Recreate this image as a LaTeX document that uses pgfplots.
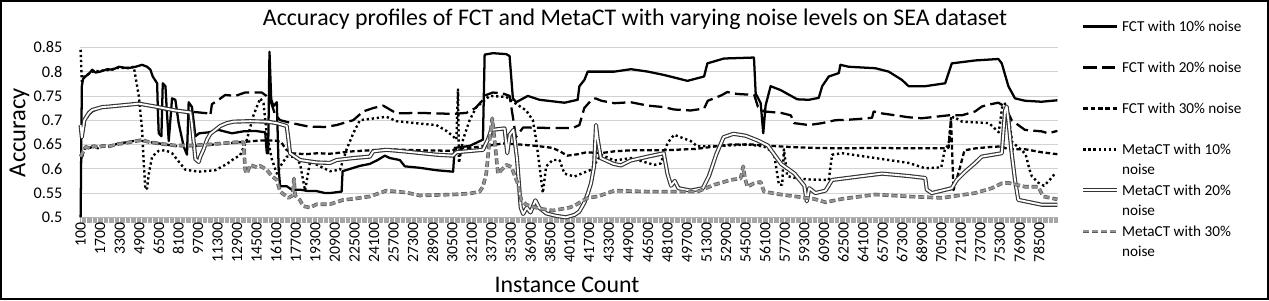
\documentclass[border=0pt]{standalone}
\usepackage{fontspec}
\setmainfont{Carlito}
\usepackage{pgfplots}
\pgfplotsset{compat=1.18}
\begin{document}
\begin{tikzpicture}
\useasboundingbox (0,0) rectangle (951.75pt,225pt);
\fill[white] (0,0) rectangle (951.75pt,225pt);
\draw[line width=1.2pt] (0.6pt,0.6pt) rectangle (951.15pt,224.4pt);
\begin{axis}[
  at={(60pt,62pt)}, anchor=south west,
  width=733.5pt, height=127.5pt, scale only axis,
  xmin=50, xmax=80050, ymin=0.5, ymax=0.85,
  clip=false,
  /pgf/number format/assume math mode=true,
  axis x line*=bottom, axis y line*=left,
  x axis line style={draw=gray!60, -},
  y axis line style={draw=none},
  ytick={0.5,0.55,0.6,0.65,0.7,0.75,0.8,0.85},
  ytick style={draw=none},
  yticklabel style={font=\fontsize{12.2}{14}\selectfont, inner sep=0pt, xshift=-13pt},
  xtick={100,1700,...,78500},
  minor xtick={100,200,...,80000},
  scaled x ticks=false,
  xtick align=outside,
  major tick length=4pt, minor tick length=4pt,
  xtick style={draw=gray!70, line width=0.3pt},
  minor x tick style={draw=gray!70, line width=0.3pt},
  xticklabel style={rotate=90, anchor=east, inner sep=0pt, font=\fontsize{11.8}{14}\selectfont,
     /pgf/number format/.cd, fixed, precision=0, 1000 sep={}},
  ymajorgrids, grid style={gray!35, line width=0.6pt},
  title={Accuracy profiles of FCT and MetaCT with varying noise levels on SEA dataset},
  title style={at={(axis description cs:0.5675,1.1176)}, anchor=center, font=\fontsize{17.9}{20}\selectfont},
  xlabel={Instance Count},
  xlabel style={at={(axis description cs:0.498,-0.395)}, anchor=center, font=\fontsize{17.9}{20}\selectfont},
  ylabel={Accuracy},
  ylabel style={at={(axis description cs:-0.0619,0.499)}, anchor=center, font=\fontsize{18.4}{20}\selectfont},
  legend cell align=left,
  legend style={at={(axis description cs:1.0235,1.168)}, anchor=north west, draw=none, fill=none,
     inner sep=0pt, row sep=4.375pt, column sep=2pt, font=\fontsize{11.4}{13}\selectfont,
     nodes={inner sep=0pt, text height=9pt, text depth=2pt}},
  legend image code/.code={\draw[#1] (0pt,0pt) -- (25.5pt,0pt);},
  every axis plot/.append style={line join=round},
]
\addplot[black, line width=1.7pt] coordinates {
(100,0.50) (200,0.77) (300,0.785) (500,0.79) (800,0.796) (1050,0.804) (1320,0.798) (1700,0.80) (2280,0.805) (2700,0.804) (3230,0.81) (3700,0.808) (4180,0.808) (4600,0.81) (5130,0.814) (5540,0.81) (5810,0.804) (6000,0.79) (6360,0.776) (6420,0.72) (6490,0.673) (6710,0.667) (6820,0.776) (7040,0.77) (7150,0.72) (7310,0.657) (7580,0.745) (7850,0.742) (8120,0.694) (8530,0.646) (8800,0.629) (8940,0.737) (9210,0.727) (9490,0.667) (9800,0.673) (10570,0.675) (11390,0.68) (12000,0.676) (12480,0.673) (13400,0.677) (14380,0.678) (15200,0.675) (15330,0.632) (15440,0.632) (15550,0.841) (15690,0.743) (15880,0.729) (16150,0.737) (16300,0.60) (16420,0.564) (16960,0.564) (17370,0.557) (18050,0.557) (18730,0.554) (19410,0.554) (20090,0.55) (20500,0.55) (21450,0.553) (21530,0.595) (22950,0.606) (23760,0.61) (24400,0.618) (24990,0.627) (25400,0.622) (26210,0.618) (26620,0.605) (27840,0.602) (29200,0.597) (30570,0.594) (30700,0.643) (31920,0.647) (33010,0.66) (33150,0.835) (33830,0.838) (34920,0.836) (35190,0.832) (35460,0.745) (35730,0.737) (36680,0.75) (37640,0.742) (39680,0.736) (40760,0.742) (40900,0.77) (41310,0.783) (41580,0.80) (43760,0.80) (45120,0.805) (46500,0.8) (47840,0.793) (49740,0.781) (51100,0.79) (51370,0.817) (52730,0.827) (55180,0.829) (55320,0.755) (55730,0.735) (55940,0.673) (56130,0.73) (56540,0.77) (57360,0.762) (58720,0.743) (59670,0.742) (60480,0.746) (60760,0.77) (61300,0.79) (62120,0.797) (62250,0.814) (62930,0.81) (65110,0.807) (66200,0.80) (67280,0.783) (67830,0.77) (69190,0.77) (70820,0.776) (71360,0.817) (73270,0.823) (75170,0.826) (75450,0.817) (75990,0.77) (76530,0.745) (77350,0.74) (78700,0.738) (80000,0.741)
};
\addlegendentry{FCT with 10\% noise}
\addlegendimage{empty legend}\addlegendentry{\phantom{x}}
\addplot[black, line width=1.7pt, dash pattern=on 10pt off 4pt] coordinates {
(100,0.69) (200,0.66) (300,0.68) (510,0.70) (780,0.712) (1050,0.718) (1600,0.725) (2410,0.728) (3770,0.73) (4860,0.735) (5950,0.728) (7040,0.722) (8940,0.718) (10570,0.714) (10710,0.71) (10840,0.733) (11390,0.742) (11930,0.752) (12750,0.75) (13560,0.757) (14920,0.757) (15300,0.75) (15700,0.735) (16000,0.712) (16420,0.70) (17370,0.694) (18730,0.687) (20090,0.686) (21040,0.69) (22400,0.70) (23220,0.718) (24030,0.725) (24850,0.73) (25400,0.722) (25940,0.714) (27840,0.715) (30560,0.713) (31650,0.715) (32400,0.725) (33010,0.742) (33280,0.752) (33830,0.757) (34640,0.755) (35190,0.75) (35500,0.70) (35700,0.665) (36300,0.685) (38450,0.684) (40360,0.684) (40900,0.69) (41300,0.725) (41900,0.742) (42200,0.745) (42700,0.74) (43760,0.735) (45100,0.737) (46500,0.73) (47800,0.727) (48650,0.722) (50000,0.72) (51100,0.724) (51400,0.74) (52500,0.751) (53000,0.758) (53800,0.754) (55200,0.752) (55500,0.728) (56000,0.718) (57400,0.715) (58200,0.71) (58450,0.694) (59670,0.69) (60760,0.694) (61840,0.70) (62930,0.701) (64020,0.703) (64840,0.705) (64970,0.718) (65650,0.714) (66740,0.71) (67830,0.706) (68920,0.704) (70000,0.707) (71090,0.71) (72180,0.71) (73270,0.718) (73810,0.728) (74360,0.732) (75170,0.736) (75720,0.728) (76260,0.70) (76800,0.69) (77350,0.68) (78710,0.677) (79250,0.673) (80000,0.678)
};
\addlegendentry{FCT with 20\% noise}
\addlegendimage{empty legend}\addlegendentry{\phantom{x}}
\addplot[black, line width=1.7pt, dash pattern=on 3.5pt off 2pt] coordinates {
(100,0.63) (200,0.62) (300,0.632) (510,0.646) (900,0.643) (1200,0.649) (1500,0.642) (1900,0.648) (2400,0.646) (3200,0.652) (4000,0.655) (4600,0.658) (5130,0.66) (5700,0.655) (6800,0.651) (7850,0.647) (9200,0.647) (10570,0.649) (11930,0.652) (13300,0.655) (14700,0.658) (16000,0.658) (16500,0.655) (16900,0.64) (17300,0.632) (18500,0.63) (19500,0.632) (20500,0.631) (22400,0.636) (23800,0.638) (25100,0.64) (27800,0.638) (30500,0.637) (30800,0.641) (31900,0.643) (33300,0.647) (34100,0.65) (34600,0.652) (36000,0.65) (37400,0.647) (38700,0.643) (39300,0.636) (39900,0.627) (40800,0.63) (41500,0.634) (42600,0.632) (43800,0.636) (45100,0.638) (47800,0.638) (50500,0.641) (52000,0.646) (53300,0.65) (55000,0.65) (56000,0.648) (58000,0.645) (60000,0.643) (62400,0.642) (65100,0.643) (67800,0.642) (70500,0.642) (71100,0.643) (71300,0.705) (71500,0.556) (72000,0.60) (72400,0.638) (73300,0.642) (74600,0.645) (75400,0.646) (76000,0.64) (77400,0.64) (78700,0.634) (80000,0.63)
};
\addlegendentry{FCT with 30\% noise}
\addlegendimage{empty legend}\addlegendentry{\phantom{x}}
\addplot[black, line width=1.8pt, dash pattern=on 1.7pt off 2.1pt] coordinates {
(100,0.845) (200,0.78) (400,0.79) (1050,0.80) (2280,0.803) (3230,0.808) (4000,0.807) (4450,0.81) (4860,0.75) (5130,0.68) (5270,0.61) (5400,0.557) (5540,0.56) (5680,0.59) (5950,0.625) (6490,0.637) (7040,0.638) (7580,0.632) (8120,0.615) (8670,0.598) (9760,0.594) (11120,0.597) (12070,0.61) (12610,0.62) (13150,0.628) (13700,0.66) (14240,0.71) (14790,0.745) (15060,0.735) (15330,0.67) (15740,0.62) (16150,0.59) (16560,0.61) (16960,0.625) (17640,0.625) (18050,0.61) (18460,0.555) (18870,0.615) (19680,0.605) (20500,0.595) (21320,0.598) (21860,0.64) (22400,0.673) (22950,0.70) (25120,0.707) (25940,0.698) (27840,0.693) (29200,0.69) (30020,0.678) (30560,0.667) (30840,0.66) (30970,0.765) (31050,0.612) (31380,0.66) (31920,0.70) (32470,0.727) (33010,0.738) (33560,0.75) (34920,0.748) (35460,0.738) (36550,0.72) (37090,0.70) (37360,0.66) (37640,0.605) (37910,0.55) (38180,0.605) (38720,0.618) (39270,0.618) (39680,0.59) (40490,0.584) (41850,0.598) (42670,0.629) (43760,0.617) (45120,0.622) (47020,0.608) (47560,0.611) (48110,0.653) (48650,0.67) (50010,0.657) (50560,0.646) (52460,0.647) (54640,0.65) (56000,0.646) (56810,0.633) (57220,0.567) (57490,0.567) (57630,0.64) (57900,0.585) (58720,0.58) (59700,0.578) (61300,0.577) (61570,0.629) (62390,0.632) (63200,0.629) (65110,0.622) (66200,0.618) (67830,0.612) (69190,0.601) (70500,0.603) (70800,0.64) (71100,0.65) (71300,0.70) (71500,0.707) (72200,0.697) (74400,0.694) (74700,0.687) (75200,0.675) (75500,0.73) (75800,0.735) (76000,0.71) (76300,0.655) (77000,0.64) (77400,0.63) (77700,0.6) (77900,0.585) (78400,0.572) (78900,0.565) (79300,0.575) (79800,0.59)
};
\addlegendentry{MetaCT with 10\%}
\addlegendimage{empty legend}\addlegendentry{noise}
\addplot[draw=black!80, line width=0.85pt, double=white, double distance=1.4pt] coordinates {
(100,0.69) (200,0.665) (400,0.70) (780,0.715) (1050,0.721) (1870,0.727) (2410,0.728) (4040,0.732) (4860,0.734) (6220,0.728) (7850,0.72) (9080,0.716) (9210,0.69) (9490,0.62) (9760,0.614) (9890,0.625) (10160,0.64) (10440,0.66) (10710,0.672) (11120,0.68) (11520,0.688) (12070,0.694) (12610,0.697) (13970,0.698) (15330,0.697) (16150,0.694) (16960,0.688) (17100,0.66) (17230,0.632) (18050,0.618) (19410,0.613) (20500,0.612) (21040,0.618) (22400,0.622) (23760,0.625) (24040,0.636) (25120,0.639) (26480,0.636) (29200,0.629) (30560,0.627) (30840,0.634) (33010,0.639) (33420,0.66) (33690,0.68) (34780,0.683) (35000,0.632) (35200,0.67) (35500,0.68) (35800,0.62) (36100,0.52) (36300,0.507) (36600,0.52) (36900,0.51) (37300,0.535) (37600,0.52) (38200,0.508) (39000,0.503) (39800,0.5) (40500,0.505) (40900,0.512) (41300,0.53) (41600,0.55) (41850,0.57) (42100,0.605) (42260,0.69) (42400,0.66) (42650,0.622) (43000,0.618) (43700,0.61) (44300,0.607) (45100,0.617) (46500,0.625) (47800,0.632) (48100,0.59) (48400,0.565) (48700,0.575) (49000,0.56) (50000,0.555) (51000,0.56) (51500,0.585) (52100,0.63) (52700,0.665) (53500,0.672) (54500,0.668) (55500,0.658) (56300,0.648) (57400,0.61) (58500,0.59) (59300,0.565) (59500,0.533) (59700,0.56) (60210,0.55) (61030,0.555) (61570,0.577) (63750,0.584) (65650,0.59) (67830,0.585) (69190,0.581) (69320,0.557) (69730,0.55) (71360,0.56) (71770,0.577) (72450,0.594) (73270,0.612) (73810,0.625) (75450,0.632) (75720,0.72) (75850,0.728) (75990,0.70) (76260,0.632) (76530,0.577) (76800,0.536) (78710,0.526) (80000,0.526)
};
\addlegendentry{MetaCT with 20\%}
\addlegendimage{empty legend}\addlegendentry{noise}
\addplot[draw=black!65, line width=0.55pt, double=gray!85, double distance=1.6pt, dash pattern=on 4.5pt off 2.2pt] coordinates {
(100,0.625) (200,0.63) (300,0.635) (510,0.645) (900,0.642) (1200,0.647) (1500,0.643) (1900,0.647) (2400,0.646) (3200,0.651) (4000,0.654) (4600,0.657) (5130,0.659) (5700,0.655) (6800,0.651) (7850,0.648) (9200,0.648) (10570,0.65) (11930,0.653) (13000,0.655) (13430,0.655) (13560,0.598) (13700,0.59) (13970,0.608) (14520,0.603) (14790,0.606) (15330,0.598) (15740,0.585) (16150,0.577) (16420,0.553) (17100,0.54) (17450,0.545) (17550,0.58) (17650,0.545) (18050,0.535) (18320,0.523) (18870,0.52) (19410,0.527) (20500,0.527) (21590,0.536) (22400,0.538) (23760,0.543) (25120,0.555) (26760,0.551) (27840,0.545) (30560,0.547) (31920,0.549) (32740,0.553) (33010,0.563) (33280,0.59) (33560,0.66) (33770,0.704) (33960,0.66) (34240,0.59) (34920,0.608) (35330,0.604) (35870,0.569) (36140,0.536) (36550,0.526) (37640,0.518) (38720,0.514) (40080,0.52) (40490,0.524) (41580,0.54) (42400,0.543) (43760,0.555) (46480,0.553) (50560,0.553) (51920,0.567) (53280,0.577) (54090,0.58) (54300,0.605) (54450,0.58) (54640,0.563) (55180,0.57) (55720,0.573) (56000,0.553) (57360,0.547) (60080,0.538) (61030,0.531) (62390,0.538) (65110,0.547) (67830,0.543) (70550,0.54) (73270,0.55) (74630,0.56) (75450,0.57) (75990,0.571) (77350,0.563) (78440,0.563) (78840,0.543) (80000,0.537)
};
\addlegendentry{MetaCT with 30\%}
\addlegendimage{empty legend}\addlegendentry{noise}
\end{axis}
\end{tikzpicture}
\end{document}
